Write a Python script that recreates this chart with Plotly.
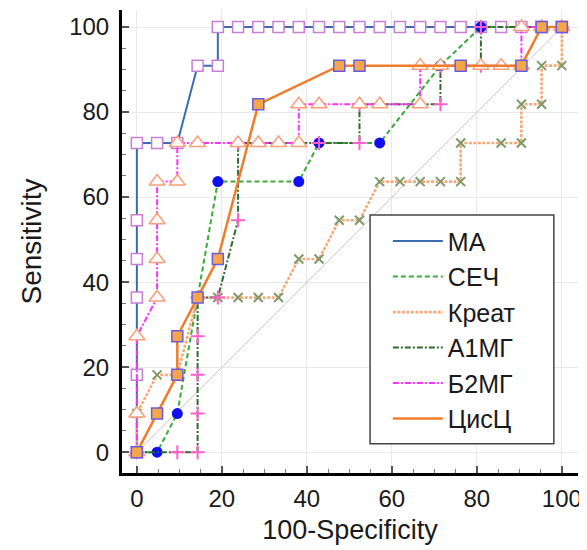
import plotly.graph_objects as go

# ---- data (100-Specificity, Sensitivity) ----
ma_x = [0, 0, 0, 0, 0, 0, 4.76, 9.52, 14.29, 19.05, 19.05, 23.81, 28.57, 33.33, 38.10, 42.86, 47.62,
        52.38, 57.14, 61.90, 66.67, 71.43, 76.19, 80.95, 85.71, 90.48, 95.24, 100]
ma_y = [0, 18.18, 36.36, 45.45, 54.55, 72.73, 72.73, 72.73, 90.91, 90.91, 100, 100, 100, 100, 100, 100, 100,
        100, 100, 100, 100, 100, 100, 100, 100, 100, 100, 100]

sec_x = [0, 4.76, 9.52, 14.29, 19.05, 38.10, 42.86, 57.14, 71.43, 80.95, 100]
sec_y = [0, 0, 9.09, 36.36, 63.64, 63.64, 72.73, 72.73, 90.91, 100, 100]

kreat_x = [0, 0, 4.76, 9.52, 14.29, 19.05, 23.81, 28.57, 33.33, 38.10, 42.86, 47.62, 52.38, 57.14, 61.90,
           66.67, 71.43, 76.19, 76.19, 85.71, 90.48, 90.48, 95.24, 95.24, 100, 100]
kreat_y = [0, 9.09, 18.18, 18.18, 36.36, 36.36, 36.36, 36.36, 36.36, 45.45, 45.45, 54.55, 54.55, 63.64, 63.64,
           63.64, 63.64, 63.64, 72.73, 72.73, 72.73, 81.82, 81.82, 90.91, 90.91, 100]

a1mg_x = [0, 9.52, 14.29, 14.29, 14.29, 14.29, 14.29, 19.05, 23.81, 23.81, 42.86, 52.38, 52.38, 71.43, 71.43,
          80.95, 80.95, 100]
a1mg_y = [0, 0, 0, 9.09, 18.18, 27.27, 36.36, 36.36, 54.55, 72.73, 72.73, 72.73, 81.82, 81.82, 90.91,
          90.91, 100, 100]

b2mg_x = [0, 0, 0, 4.76, 4.76, 4.76, 4.76, 9.52, 9.52, 14.29, 23.81, 28.57, 33.33, 38.10, 38.10, 42.86,
          52.38, 57.14, 66.67, 66.67, 71.43, 80.95, 85.71, 90.48, 90.48, 95.24, 100]
b2mg_y = [0, 9.09, 27.27, 36.36, 45.45, 54.55, 63.64, 63.64, 72.73, 72.73, 72.73, 72.73, 72.73, 72.73, 81.82,
          81.82, 81.82, 81.82, 81.82, 90.91, 90.91, 90.91, 90.91, 90.91, 100, 100, 100]

cis_x = [0, 4.76, 9.52, 9.52, 14.29, 19.05, 28.57, 47.62, 52.38, 76.19, 90.48, 95.24, 100]
cis_y = [0, 9.09, 18.18, 27.27, 36.36, 45.45, 81.82, 90.91, 90.91, 90.91, 90.91, 100, 100]

diag_x = [0, 100]
diag_y = [0, 100]

names = ["МА", "СЕЧ", "Креат", "А1МГ", "Б2МГ", "ЦисЦ"]
x_ticks = [0, 20, 40, 60, 80, 100]
y_ticks = [0, 20, 40, 60, 80, 100]

FONT = "Liberation Sans, Arial, sans-serif"

fig = go.Figure()

fig.add_trace(go.Scatter(x=diag_x, y=diag_y, mode="lines", showlegend=False,
                         line=dict(color="#d9c4c4", width=1), hoverinfo="skip"))

series = [
    (ma_x, ma_y, names[0], dict(color="#3a6db0", width=2),
     dict(symbol="square", size=11, color="white", line=dict(color="#c77fd6", width=1.5))),
    (sec_x, sec_y, names[1], dict(color="#3aaa3a", width=2, dash="5px,3px"),
     dict(symbol="circle", size=11, color="#1010ee", line=dict(width=0))),
    (kreat_x, kreat_y, names[2], dict(color="#f5aa78", width=2.6, dash="3px,1.5px"),
     dict(symbol="x-thin", size=9, color="#7f9a6a", line=dict(color="#7f9a6a", width=2))),
    (a1mg_x, a1mg_y, names[3], dict(color="#2f6b30", width=2, dash="6px,2px,2px,2px"),
     dict(symbol="cross-thin", size=10, color="#ff5fcf", line=dict(color="#ff5fcf", width=2))),
    (b2mg_x, b2mg_y, names[4], dict(color="#ff30ff", width=2, dash="6px,2px,2px,2px"),
     dict(symbol="triangle-up", size=14, color="white", line=dict(color="#f7a07a", width=1.5))),
    (cis_x, cis_y, names[5], dict(color="#f07c2c", width=2.5),
     dict(symbol="square", size=11, color="#f6a646", line=dict(color="#6a5ce0", width=1.5))),
]

for i, (xs, ys, nm, ln, mk) in enumerate(series):
    fig.add_trace(go.Scatter(x=xs, y=ys, mode="lines", name=nm, line=ln,
                             legendgroup=f"g{i}", showlegend=True))
    fig.add_trace(go.Scatter(x=xs, y=ys, mode="markers", name=nm, marker=mk,
                             legendgroup=f"g{i}", showlegend=False))

axis_common = dict(
    showline=True, linecolor="black", linewidth=3, mirror=False,
    ticks="inside", ticklen=7, tickwidth=1.5, tickcolor="#555",
    showgrid=True, gridcolor="#e9e9e9", gridwidth=1, zeroline=False,
    tickfont=dict(family=FONT, size=24, color="#1a1a1a"),
    minor=dict(ticks="inside", ticklen=4, tickwidth=1, tickcolor="#777", dtick=5, showgrid=False),
    automargin=False,
)

# the page body adds an 8px offset, so the figure is 8px smaller than the window
fig.update_layout(
    width=579, height=542,
    margin=dict(l=114, r=9, t=2, b=77),
    paper_bgcolor="white", plot_bgcolor="white",
    font=dict(family=FONT, color="#1a1a1a"),
    xaxis=dict(range=[-3.5, 103.8], tickvals=x_ticks, ticklabelstandoff=2,
               title=dict(text="100-Specificity", font=dict(family=FONT, size=27), standoff=10),
               **axis_common),
    yaxis=dict(range=[-4.9, 104], tickvals=y_ticks, ticklabelstandoff=5,
               title=dict(text="Sensitivity", font=dict(family=FONT, size=28), standoff=20),
               **axis_common),
    showlegend=True,
    legend=dict(x=0.583, y=0.55, xanchor="left", yanchor="top",
                bgcolor="rgba(0,0,0,0)", borderwidth=0,
                font=dict(family=FONT, size=25, color="#1a1a1a"),
                tracegroupgap=0, itemwidth=50, traceorder="normal"),
    shapes=[dict(type="rect", xref="paper", yref="paper", x0=0.544, x1=0.947, y0=0.063, y1=0.557,
                 fillcolor="white", line=dict(color="#444", width=1.5), layer="above")],
)

fig.write_html("out.html")
